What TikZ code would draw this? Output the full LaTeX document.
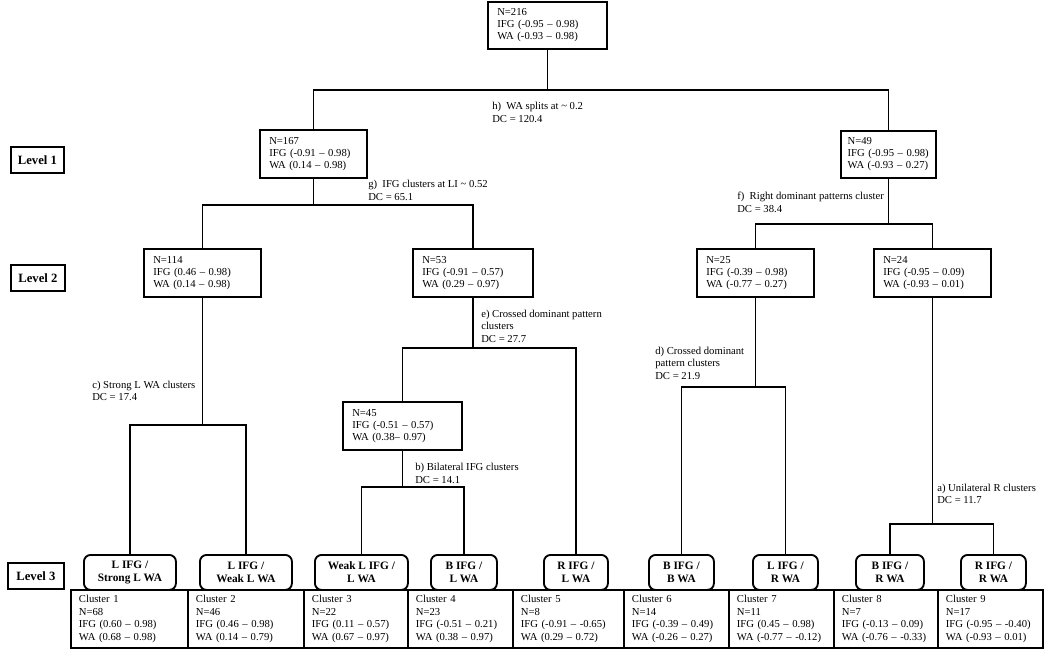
\documentclass[tikz,border=0pt]{standalone}
\usepackage{fontspec}
\setmainfont{Liberation Serif}
\begin{document}
\begin{tikzpicture}[x=0.75pt,y=-0.75pt,
  conn/.style={line width=1.4pt},
  info/.style 2 args={draw, line width=1.4pt, anchor=north west, align=left,
    inner xsep=7pt, inner ysep=0pt, minimum width=#1*0.75pt,
    text width=#1*0.75pt-14pt, minimum height=#2*0.75pt,
    font=\fontsize{8}{9}\selectfont},
  clus/.style={draw, line width=1.4pt, anchor=north west, align=left,
    inner xsep=6pt, inner ysep=0pt, minimum width=#1*0.75pt,
    text width=#1*0.75pt-12pt, minimum height=58*0.75pt,
    font=\fontsize{8}{9.4}\selectfont},
  lab/.style={anchor=west, align=left, inner sep=0pt, font=\fontsize{8}{9.4}\selectfont},
  lvl/.style={draw, line width=1.4pt, anchor=north west, inner sep=0pt,
    minimum width=#1*0.75pt, minimum height=26*0.75pt,
    font=\fontsize{9.5}{11}\selectfont\bfseries},
  pat/.style={draw, line width=1.4pt, rounded corners=5pt, anchor=north west,
    align=center, inner sep=0pt, fill=white, minimum width=#1*0.75pt,
    minimum height=35*0.75pt, font=\fontsize{8.5}{10}\selectfont\bfseries}
]
\useasboundingbox (0,0) rectangle (1050,650);

% level labels
\node[lvl=53] (L1) at (10,146) {Level 1};
\node[lvl=54] (L2) at (10,264) {Level 2};
\node[lvl=56] (L3) at (7,562) {Level 3};

% tree boxes
\node[info={119}{47}] (N216) at (487,1) {N=216\\IFG (-0.95 -- 0.98)\\WA (-0.93 -- 0.98)};
\node[info={107}{48}] (N167) at (259,129) {N=167\\IFG (-0.91 -- 0.98)\\WA (0.14 -- 0.98)};
\node[info={95}{47}, inner xsep=5pt, text width=95*0.75pt-10pt] (N49) at (840,130) {N=49\\IFG (-0.95 -- 0.98)\\WA (-0.93 -- 0.27)};
\node[info={117}{48}] (N114) at (143,248) {N=114\\IFG (0.46 -- 0.98)\\WA (0.14 -- 0.98)};
\node[info={120}{48}] (N53) at (412,248) {N=53\\IFG (-0.91 -- 0.57)\\WA (0.29 -- 0.97)};
\node[info={117}{48}] (N25) at (696,248) {N=25\\IFG (-0.39 -- 0.98)\\WA (-0.77 -- 0.27)};
\node[info={117}{48}] (N24) at (873,248) {N=24\\IFG (-0.95 -- 0.09)\\WA (-0.93 -- 0.01)};
\node[info={119}{48}] (N45) at (342,401) {N=45\\IFG (-0.51 -- 0.57)\\WA (0.38-- 0.97)};

% cluster boxes
\node[clus=117] (C1) at (70,589) {Cluster 1\\N=68\\IFG (0.60 -- 0.98)\\WA (0.68 -- 0.98)};
\node[clus=116] (C2) at (187,589) {Cluster 2\\N=46\\IFG (0.46 -- 0.98)\\WA (0.14 -- 0.79)};
\node[clus=104] (C3) at (303,589) {Cluster 3\\N=22\\IFG (0.11 -- 0.57)\\WA (0.67 -- 0.97)};
\node[clus=105] (C4) at (407,589) {Cluster 4\\N=23\\IFG (-0.51 -- 0.21)\\WA (0.38 -- 0.97)};
\node[clus=111] (C5) at (512,589) {Cluster 5\\N=8\\IFG (-0.91 -- -0.65)\\WA (0.29 -- 0.72)};
\node[clus=105] (C6) at (623,589) {Cluster 6\\N=14\\IFG (-0.39 -- 0.49)\\WA (-0.26 -- 0.27)};
\node[clus=105] (C7) at (728,589) {Cluster 7\\N=11\\IFG (0.45 -- 0.98)\\WA (-0.77 -- -0.12)};
\node[clus=104] (C8) at (833,589) {Cluster 8\\N=7\\IFG (-0.13 -- 0.09)\\WA (-0.76 -- -0.33)};
\node[clus=105] (C9) at (937,589) {Cluster 9\\N=17\\IFG (-0.95 -- -0.40)\\WA (-0.93 -- 0.01)};

% pattern boxes
\node[pat=92] (R1) at (83,554) {L IFG /\\Strong L WA};
\node[pat=92] (R2) at (199,554) {L IFG /\\Weak L WA};
\node[pat=93] (R3) at (314,554) {Weak L IFG /\\L WA};
\node[pat=66] (R4) at (430,554) {B IFG /\\L WA};
\node[pat=64] (R5) at (543,554) {R IFG /\\L WA};
\node[pat=65] (R6) at (648,554) {B IFG /\\B WA};
\node[pat=65] (R7) at (752,554) {L IFG /\\R WA};
\node[pat=68] (R8) at (855,554) {B IFG /\\R WA};
\node[pat=65] (R9) at (960,554) {R IFG /\\R WA};

% split coordinates
\coordinate (hs) at (N216.south |- 0,90);
\coordinate (gs) at (N167.south |- 0,205);
\coordinate (fs) at (N49.south |- 0,224);
\coordinate (cs) at (N114.south |- 0,425);
\coordinate (es) at (N53.south |- 0,348);
\coordinate (bs) at (N45.south |- 0,487);
\coordinate (ds) at (N25.south |- 0,387);
\coordinate (as) at (N24.south |- 0,524);

% connectors
\draw[conn] (N216.south) -- (hs);
\draw[conn] (N167.north) |- (hs) -| (N49.north);
\draw[conn] (N167.south) -- (gs);
\draw[conn] (N114.north) |- (gs) -| (N53.north);
\draw[conn] (N49.south) -- (fs);
\draw[conn] (N25.north) |- (fs) -| (N24.north);
\draw[conn] (N114.south) -- (cs);
\draw[conn] (R1.north) |- (cs) -| (R2.north);
\draw[conn] (N53.south) -- (es);
\draw[conn] (N45.north) |- (es) -| (R5.north);
\draw[conn] (N45.south) -- (bs);
\draw[conn] (R3.north) |- (bs) -| (R4.north);
\draw[conn] (N25.south) -- (ds);
\draw[conn] (R6.north) |- (ds) -| (R7.north);
\draw[conn] (N24.south) -- (as);
\draw[conn] (R8.north) |- (as) -| (R9.north);

% split labels
\node[lab] (lh) at (492,112.5) {h)\ \ WA splits at \textasciitilde\ 0.2\\DC = 120.4};
\node[lab] (lg) at (368,190.5) {g)\ \ IFG clusters at LI \textasciitilde\ 0.52\\DC = 65.1};
\node[lab] (lf) at (737,202.5) {f)\ \ Right dominant patterns cluster\\DC = 38.4};
\node[lab] (le) at (481,326) {e) Crossed dominant pattern\\clusters\\DC = 27.7};
\node[lab] (ld) at (655,363) {d) Crossed dominant\\pattern clusters\\DC = 21.9};
\node[lab] (lc) at (92,391) {c) Strong L WA clusters\\DC = 17.4};
\node[lab] (lb) at (415,473.5) {b) Bilateral IFG clusters\\DC = 14.1};
\node[lab] (la) at (937,494) {a) Unilateral R clusters\\DC = 11.7};
\end{tikzpicture}
\end{document}
